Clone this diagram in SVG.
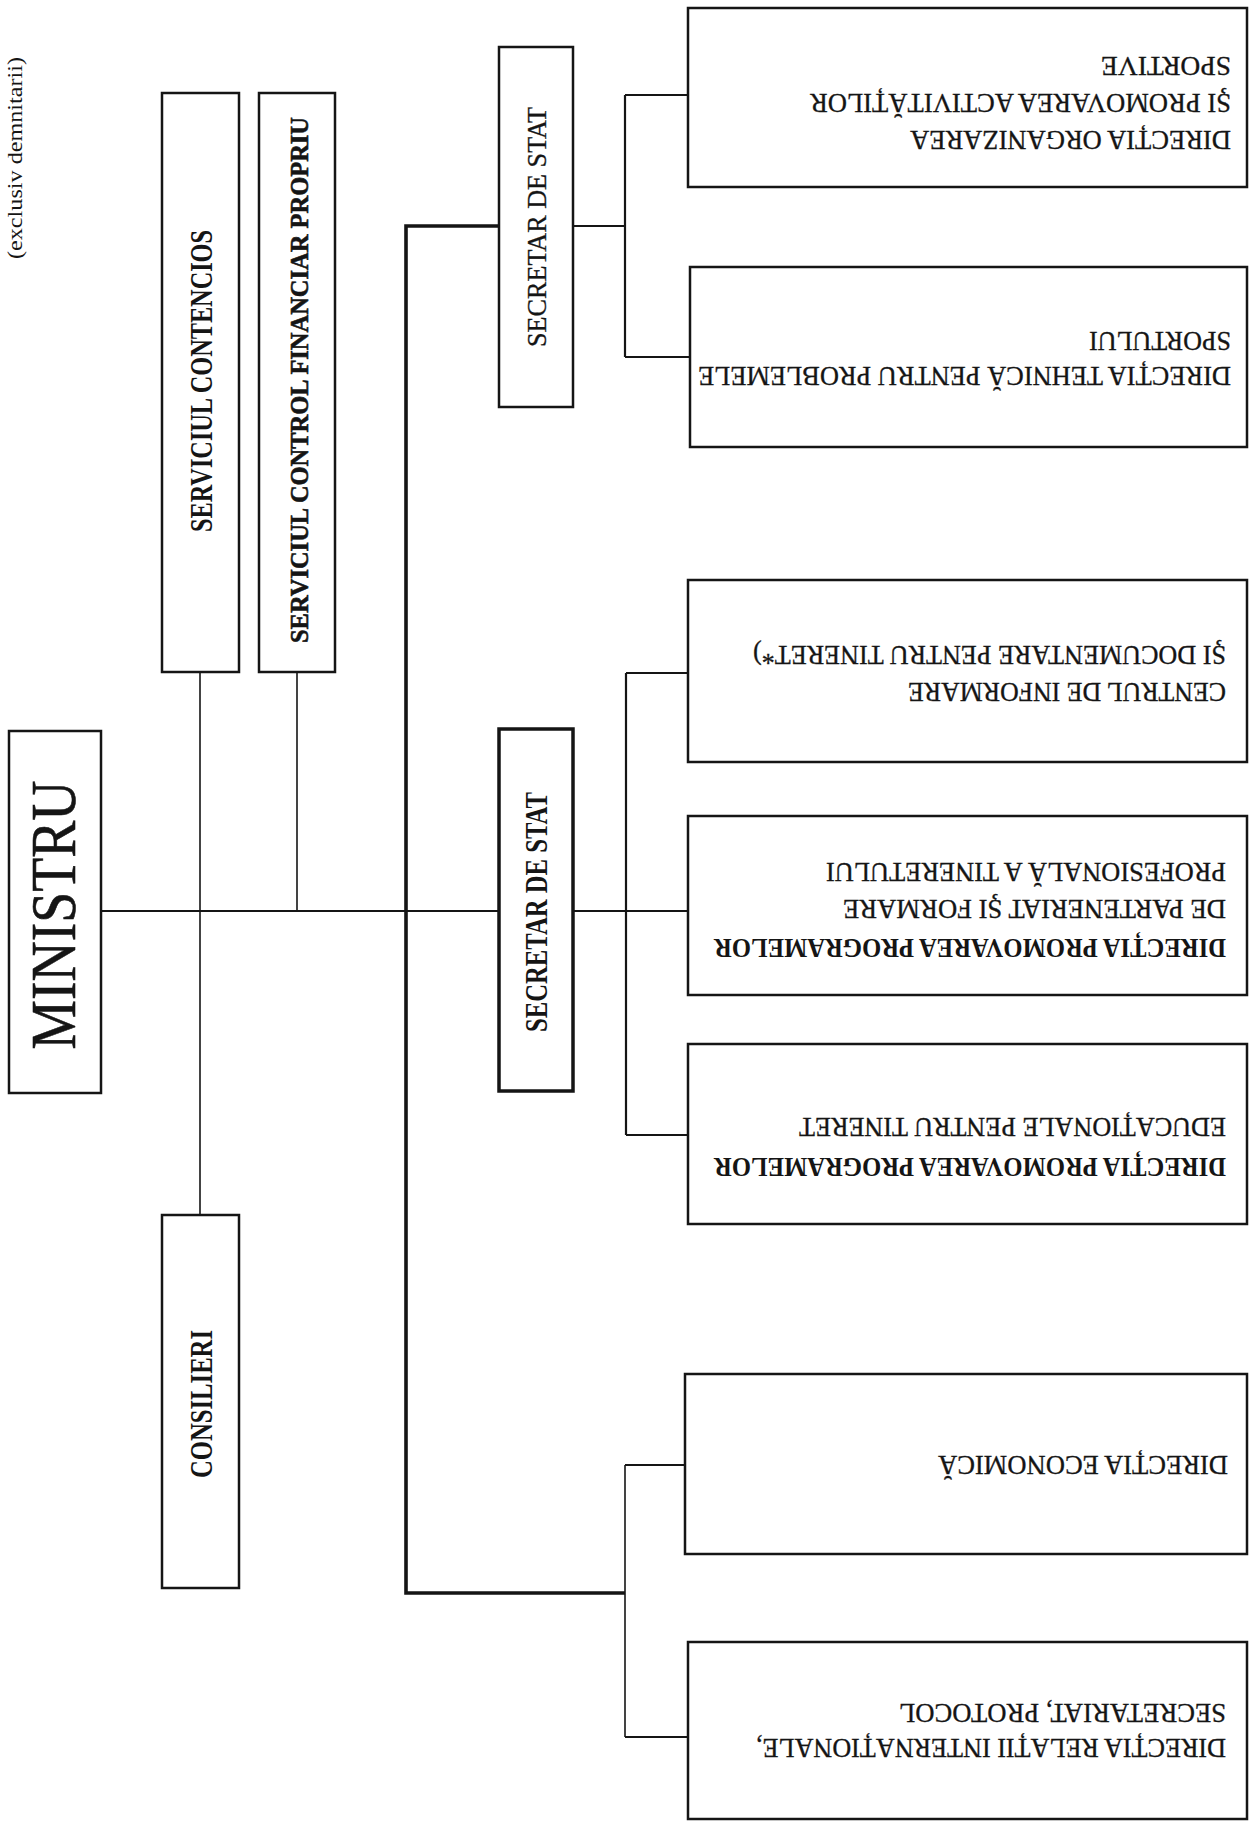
<svg xmlns="http://www.w3.org/2000/svg" width="1253" height="1821" viewBox="0 0 1253 1821">
<style>
.bx{fill:#fff;stroke:#151515;stroke-width:2.5}
.bxb{fill:#fff;stroke:#151515;stroke-width:3.5}
.ln{fill:none;stroke:#151515;stroke-width:2.2}
.lt{fill:none;stroke:#151515;stroke-width:1.6}
.lb{fill:none;stroke:#151515;stroke-width:3.6}
.t{font-family:"Liberation Serif","Times New Roman",serif;fill:#151515}
.r{font-size:27px;stroke:#151515;stroke-width:0.3}
.b{font-size:27px;font-weight:bold}
.v{font-size:31px;font-weight:bold}
.vs{font-size:26px;font-weight:bold;stroke:#151515;stroke-width:0.6}
</style>
<rect x="0" y="0" width="1253" height="1821" fill="#fff"/>
<g id="connectors">
<path class="ln" d="M101 911 H499"/>
<path class="lt" d="M200 672 V1215"/>
<path class="lt" d="M297 672 V911"/>
<path class="lb" d="M499 226 H406 V1593 H625"/>
<path class="ln" d="M573 226 H625"/>
<path class="ln" d="M625 95 V357"/>
<path class="ln" d="M625 95 H688"/>
<path class="ln" d="M625 357 H690"/>
<path class="ln" d="M573 911 H688"/>
<path class="ln" d="M626 673 V1135"/>
<path class="ln" d="M626 673 H688"/>
<path class="ln" d="M626 1135 H688"/>
<path class="lt" d="M625 1465 V1737"/>
<path class="ln" d="M625 1465 H685"/>
<path class="ln" d="M625 1737 H688"/>
</g>
<g id="note">
<text class="t" x="22" y="158" transform="rotate(-90 22 158)" text-anchor="middle" font-size="20" textLength="202" lengthAdjust="spacingAndGlyphs">(exclusiv demnitarii)</text>
</g>
<g id="ministru">
<rect class="bx" x="9" y="731" width="92" height="362"/>
<text class="t" x="75" y="915" transform="rotate(-90 75 915)" text-anchor="middle" font-size="64" stroke="#151515" stroke-width="0.6" textLength="269" lengthAdjust="spacingAndGlyphs">MINISTRU</text>
</g>
<g id="serviciul-contencios">
<rect class="bx" x="162" y="93" width="77" height="579"/>
<text class="t v" x="212" y="381" transform="rotate(-90 212 381)" text-anchor="middle" textLength="302" lengthAdjust="spacingAndGlyphs">SERVICIUL CONTENCIOS</text>
</g>
<g id="serviciul-control">
<rect class="bx" x="259" y="93" width="76" height="579"/>
<text class="t vs" x="308" y="380" transform="rotate(-90 308 380)" text-anchor="middle" textLength="526" lengthAdjust="spacingAndGlyphs">SERVICIUL CONTROL FINANCIAR PROPRIU</text>
</g>
<g id="consilieri">
<rect class="bx" x="162" y="1215" width="77" height="373"/>
<text class="t v" x="212" y="1404" transform="rotate(-90 212 1404)" text-anchor="middle" textLength="148" lengthAdjust="spacingAndGlyphs">CONSILIERI</text>
</g>
<g id="secretar-stat-1">
<rect class="bx" x="499" y="47" width="74" height="360"/>
<text class="t" x="546" y="227" transform="rotate(-90 546 227)" text-anchor="middle" font-size="28" stroke="#151515" stroke-width="0.3" textLength="240" lengthAdjust="spacingAndGlyphs">SECRETAR DE STAT</text>
</g>
<g id="secretar-stat-2">
<rect class="bxb" x="499" y="729" width="74" height="362"/>
<text class="t v" x="547" y="912" transform="rotate(-90 547 912)" text-anchor="middle" textLength="240" lengthAdjust="spacingAndGlyphs">SECRETAR DE STAT</text>
</g>
<g id="directia-organizarea">
<rect class="bx" x="688" y="8" width="559" height="179"/>
<text class="t r" x="1231" y="131" transform="rotate(180 1231 131)" textLength="321" lengthAdjust="spacingAndGlyphs">DIRECȚIA ORGANIZAREA</text>
<text class="t r" x="1231" y="94" transform="rotate(180 1231 94)" textLength="421" lengthAdjust="spacingAndGlyphs">ŞI PROMOVAREA ACTIVITĂȚILOR</text>
<text class="t r" x="1231" y="57" transform="rotate(180 1231 57)" textLength="130" lengthAdjust="spacingAndGlyphs">SPORTIVE</text>
</g>
<g id="directia-tehnica">
<rect class="bx" x="690" y="267" width="557" height="180"/>
<text class="t r" x="1231" y="367" transform="rotate(180 1231 367)" textLength="533" lengthAdjust="spacingAndGlyphs">DIRECȚIA TEHNICĂ PENTRU PROBLEMELE</text>
<text class="t r" x="1231" y="332" transform="rotate(180 1231 332)" textLength="142" lengthAdjust="spacingAndGlyphs">SPORTULUI</text>
</g>
<g id="centrul-informare">
<rect class="bx" x="688" y="580" width="559" height="182"/>
<text class="t r" x="1226" y="683" transform="rotate(180 1226 683)" textLength="318" lengthAdjust="spacingAndGlyphs">CENTRUL DE INFORMARE</text>
<text class="t r" x="1226" y="646" transform="rotate(180 1226 646)" textLength="473" lengthAdjust="spacingAndGlyphs">ŞI DOCUMENTARE PENTRU TINERET*)</text>
</g>
<g id="directia-parteneriat">
<rect class="bx" x="688" y="816" width="559" height="179"/>
<text class="t b" x="1226" y="939" transform="rotate(180 1226 939)" textLength="512" lengthAdjust="spacingAndGlyphs">DIRECȚIA PROMOVAREA PROGRAMELOR</text>
<text class="t r" x="1226" y="900" transform="rotate(180 1226 900)" textLength="383" lengthAdjust="spacingAndGlyphs">DE PARTENERIAT ŞI FORMARE</text>
<text class="t r" x="1226" y="863" transform="rotate(180 1226 863)" textLength="400" lengthAdjust="spacingAndGlyphs">PROFESIONALĂ A TINERETULUI</text>
</g>
<g id="directia-educationale">
<rect class="bx" x="688" y="1044" width="559" height="180"/>
<text class="t b" x="1226" y="1158" transform="rotate(180 1226 1158)" textLength="512" lengthAdjust="spacingAndGlyphs">DIRECȚIA PROMOVAREA PROGRAMELOR</text>
<text class="t r" x="1226" y="1118" transform="rotate(180 1226 1118)" textLength="427" lengthAdjust="spacingAndGlyphs">EDUCAȚIONALE PENTRU TINERET</text>
</g>
<g id="directia-economica">
<rect class="bx" x="685" y="1374" width="562" height="180"/>
<text class="t r" x="1228" y="1456" transform="rotate(180 1228 1456)" textLength="290" lengthAdjust="spacingAndGlyphs">DIRECȚIA ECONOMICĂ</text>
</g>
<g id="directia-relatii">
<rect class="bx" x="688" y="1642" width="559" height="177"/>
<text class="t r" x="1226" y="1739" transform="rotate(180 1226 1739)" textLength="470" lengthAdjust="spacingAndGlyphs">DIRECȚIA RELAȚII INTERNAȚIONALE,</text>
<text class="t r" x="1226" y="1704" transform="rotate(180 1226 1704)" textLength="327" lengthAdjust="spacingAndGlyphs">SECRETARIAT, PROTOCOL</text>
</g>
</svg>
